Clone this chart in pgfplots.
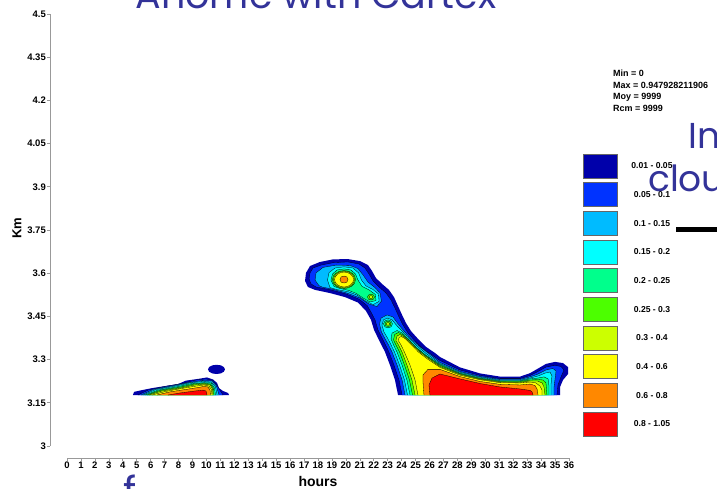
\documentclass[border=0pt]{standalone}
\usepackage{pgfplots}
\pgfplotsset{compat=1.18}
\usepackage{pgfplotstable}
\usepackage{fontspec}
\setmainfont{Liberation Sans}
\newfontfamily\slidefont{Poppins}

\definecolor{lv1}{RGB}{0,0,170}
\definecolor{lv2}{RGB}{0,51,255}
\definecolor{lv3}{RGB}{0,187,255}
\definecolor{lv4}{RGB}{0,255,255}
\definecolor{lv5}{RGB}{0,255,140}
\definecolor{lv6}{RGB}{76,255,0}
\definecolor{lv7}{RGB}{204,255,0}
\definecolor{lv8}{RGB}{255,255,0}
\definecolor{lv9}{RGB}{255,136,0}
\definecolor{lv10}{RGB}{255,0,0}
\definecolor{slideblue}{RGB}{51,51,153}

% ---------- main cloud: levels enclosing the whole structure ----------
\pgfplotstableread{
x y
23.74 3.177
23.52 3.229
23.16 3.281
22.81 3.326
22.55 3.351
22.30 3.375
22.02 3.403
21.80 3.438
21.44 3.469
20.87 3.498
19.94 3.517
18.86 3.531
17.79 3.542
17.28 3.552
17.07 3.573
17.14 3.601
17.43 3.625
18.14 3.639
19.08 3.648
20.15 3.649
21.01 3.642
21.59 3.628
21.87 3.608
22.16 3.583
22.59 3.563
23.09 3.542
23.45 3.517
23.74 3.486
24.03 3.455
24.31 3.427
24.67 3.399
25.17 3.372
25.75 3.344
26.39 3.323
26.75 3.309
28.18 3.273
29.62 3.252
31.05 3.241
32.49 3.241
33.21 3.253
33.71 3.267
34.35 3.285
35.00 3.292
35.57 3.288
35.93 3.274
35.93 3.250
35.57 3.229
35.36 3.205
35.36 3.177
}\mainA
\pgfplotstableread{
x y
24.03 3.177
23.81 3.229
23.45 3.281
23.09 3.326
22.84 3.351
22.59 3.375
22.30 3.403
22.09 3.438
21.80 3.465
21.52 3.488
20.94 3.510
20.01 3.528
18.93 3.542
17.86 3.552
17.50 3.563
17.36 3.580
17.43 3.601
17.64 3.618
18.22 3.628
19.15 3.637
20.15 3.639
20.94 3.632
21.37 3.618
21.66 3.597
21.95 3.573
22.38 3.552
22.88 3.531
23.24 3.507
23.52 3.479
23.81 3.448
24.10 3.420
24.46 3.392
24.96 3.365
25.53 3.337
26.18 3.316
26.75 3.297
28.18 3.264
29.62 3.245
31.05 3.234
32.49 3.234
33.21 3.245
33.71 3.257
34.35 3.274
35.00 3.280
35.43 3.276
35.64 3.264
35.43 3.240
35.21 3.212
35.14 3.177
}\mainB

% ---------- upper lobe (19-22 h) ----------
\pgfplotstableread{
x y
18.07 3.557
17.79 3.576
17.86 3.601
18.36 3.620
19.29 3.628
20.30 3.627
20.87 3.616
21.23 3.594
21.59 3.569
22.09 3.550
22.45 3.531
22.55 3.503
22.23 3.484
21.66 3.493
21.01 3.514
20.08 3.531
19.00 3.545
18.29 3.552
}\headC
\pgfplotstableread{
x y
18.68 3.576
18.79 3.602
19.22 3.618
19.87 3.622
20.51 3.618
20.91 3.601
21.12 3.576
21.44 3.556
21.95 3.543
22.34 3.528
22.38 3.502
21.95 3.491
21.37 3.505
20.80 3.524
20.15 3.536
19.36 3.543
18.86 3.550
}\headD
\pgfplotstableread{
x y
18.93 3.576
19.04 3.597
19.36 3.611
19.87 3.615
20.37 3.611
20.69 3.597
20.87 3.576
21.16 3.554
21.66 3.542
22.12 3.526
22.16 3.505
21.73 3.500
21.23 3.514
20.73 3.530
20.22 3.540
19.58 3.547
19.15 3.554
}\headE
\pgfplotstableread{
x y
20.69 3.578
20.63 3.590
20.45 3.600
20.18 3.607
19.87 3.609
19.55 3.607
19.28 3.600
19.10 3.590
19.04 3.578
19.10 3.566
19.28 3.556
19.55 3.549
19.87 3.547
20.18 3.549
20.45 3.556
20.63 3.566
}\headF
\pgfplotstableread{
x y
20.62 3.578
20.56 3.589
20.40 3.598
20.15 3.605
19.87 3.607
19.58 3.605
19.33 3.598
19.17 3.589
19.11 3.578
19.17 3.567
19.33 3.558
19.58 3.551
19.87 3.549
20.15 3.551
20.40 3.558
20.56 3.567
}\headG
\pgfplotstableread{
x y
20.55 3.578
20.50 3.588
20.35 3.596
20.13 3.602
19.87 3.604
19.61 3.602
19.39 3.596
19.24 3.588
19.19 3.578
19.24 3.568
19.39 3.560
19.61 3.554
19.87 3.552
20.13 3.554
20.35 3.560
20.50 3.568
}\headH
\pgfplotstableread{
x y
20.15 3.578
20.07 3.587
19.87 3.590
19.66 3.587
19.58 3.578
19.66 3.569
19.87 3.566
20.07 3.569
}\headI
\pgfplotstableread{
x y
22.05 3.517
21.98 3.524
21.80 3.527
21.62 3.524
21.55 3.517
21.62 3.510
21.80 3.507
21.98 3.510
}\secF
\pgfplotstableread{
x y
21.93 3.517
21.89 3.521
21.80 3.522
21.71 3.521
21.67 3.517
21.71 3.513
21.80 3.512
21.89 3.513
}\secG
\pgfplotstableread{
x y
23.34 3.424
23.25 3.434
23.02 3.438
22.79 3.434
22.70 3.424
22.79 3.414
23.02 3.410
23.25 3.414
}\thrE
\pgfplotstableread{
x y
23.24 3.424
23.17 3.431
23.02 3.433
22.87 3.431
22.81 3.424
22.87 3.417
23.02 3.415
23.17 3.417
}\thrF
\pgfplotstableread{
x y
23.14 3.424
23.10 3.427
23.02 3.429
22.94 3.427
22.91 3.424
22.94 3.421
23.02 3.419
23.10 3.421
}\thrG

% ---------- lower part of the main cloud (24-36 h) ----------
\pgfplotstableread{
x y
24.24 3.177
24.03 3.229
23.67 3.281
23.31 3.326
23.06 3.351
22.81 3.372
22.55 3.396
22.41 3.424
22.52 3.444
22.95 3.455
23.38 3.448
23.74 3.424
24.17 3.399
24.67 3.372
25.24 3.347
25.89 3.323
26.75 3.290
28.18 3.259
29.62 3.241
31.05 3.231
32.49 3.231
33.21 3.240
33.78 3.250
34.35 3.264
34.85 3.269
35.07 3.260
35.00 3.233
34.93 3.205
34.93 3.177
}\lowC
\pgfplotstableread{
x y
24.42 3.177
24.20 3.229
23.85 3.281
23.49 3.326
23.24 3.351
23.02 3.372
22.73 3.396
22.59 3.420
22.70 3.438
22.99 3.444
23.31 3.438
23.67 3.417
24.10 3.396
24.56 3.372
25.10 3.347
25.75 3.321
26.75 3.286
28.18 3.256
29.62 3.239
31.05 3.228
32.49 3.228
33.21 3.236
33.78 3.243
34.28 3.253
34.64 3.257
34.78 3.243
34.71 3.215
34.71 3.177
}\lowD
\pgfplotstableread{
x y
24.60 3.177
24.38 3.229
24.03 3.281
23.67 3.326
23.42 3.351
23.24 3.372
23.31 3.392
23.67 3.401
24.06 3.392
24.49 3.370
24.99 3.345
25.64 3.319
26.75 3.283
28.18 3.253
29.62 3.236
31.05 3.226
32.49 3.226
33.21 3.233
33.78 3.236
34.21 3.240
34.50 3.233
34.57 3.208
34.57 3.177
}\lowE
\pgfplotstableread{
x y
24.78 3.177
24.56 3.229
24.20 3.281
23.85 3.326
23.59 3.351
23.42 3.368
23.49 3.387
23.77 3.394
24.13 3.385
24.56 3.365
25.06 3.340
25.71 3.314
26.75 3.280
28.18 3.251
29.62 3.234
31.05 3.224
32.49 3.224
33.21 3.229
33.78 3.231
34.14 3.229
34.35 3.219
34.42 3.177
}\lowF
\pgfplotstableread{
x y
24.96 3.177
24.74 3.229
24.38 3.281
24.03 3.326
23.77 3.351
23.59 3.366
23.67 3.382
23.88 3.387
24.20 3.378
24.63 3.358
25.14 3.333
25.78 3.309
26.75 3.276
28.18 3.249
29.62 3.232
31.05 3.222
32.49 3.221
33.21 3.226
33.71 3.226
34.07 3.219
34.21 3.205
34.28 3.177
}\lowG
\pgfplotstableread{
x y
25.17 3.177
24.96 3.229
24.60 3.281
24.20 3.326
23.95 3.351
23.77 3.365
23.81 3.377
23.99 3.380
24.28 3.372
24.71 3.351
25.21 3.326
25.85 3.302
26.75 3.273
28.18 3.246
29.62 3.230
31.05 3.220
32.49 3.219
33.21 3.222
33.63 3.219
33.92 3.208
34.07 3.194
34.07 3.177
}\lowH
\pgfplotstableread{
x y
25.60 3.177
25.53 3.222
25.53 3.247
25.89 3.266
26.75 3.266
28.18 3.241
29.62 3.224
31.05 3.214
32.49 3.212
33.21 3.215
33.56 3.210
33.71 3.198
33.78 3.177
}\lowI
\pgfplotstableread{
x y
26.03 3.177
25.96 3.212
26.18 3.236
26.75 3.250
28.18 3.233
29.62 3.217
31.05 3.205
32.49 3.198
33.21 3.193
33.35 3.188
33.42 3.177
}\lowJ

% ---------- early cloud (5-12 h) ----------
\pgfplotstableread{
x y
4.73 3.177
4.81 3.188
5.38 3.194
6.10 3.201
7.03 3.208
7.96 3.215
8.53 3.227
9.54 3.234
10.04 3.238
10.47 3.231
10.76 3.219
10.90 3.201
11.19 3.191
11.55 3.184
11.62 3.177
}\earlyA
\pgfplotstableread{
x y
5.09 3.177
5.81 3.194
7.03 3.207
8.25 3.217
9.25 3.229
9.97 3.233
10.47 3.227
10.79 3.208
11.04 3.188
11.19 3.177
}\earlyB
\pgfplotstableread{
x y
5.31 3.177
6.17 3.196
7.46 3.208
8.68 3.220
9.68 3.227
10.40 3.226
10.72 3.208
10.90 3.177
}\earlyC
\pgfplotstableread{
x y
5.45 3.177
6.38 3.196
7.67 3.207
8.82 3.219
9.75 3.224
10.36 3.222
10.65 3.205
10.76 3.177
}\earlyD
\pgfplotstableread{
x y
5.59 3.177
6.53 3.194
7.82 3.205
8.96 3.217
9.83 3.220
10.33 3.219
10.58 3.201
10.65 3.177
}\earlyE
\pgfplotstableread{
x y
5.74 3.177
6.67 3.193
7.96 3.203
9.11 3.215
9.83 3.218
10.29 3.215
10.51 3.200
10.54 3.177
}\earlyF
\pgfplotstableread{
x y
5.88 3.177
6.81 3.191
8.10 3.201
9.18 3.212
9.83 3.215
10.26 3.212
10.44 3.198
10.47 3.177
}\earlyG
\pgfplotstableread{
x y
6.10 3.177
7.03 3.189
8.25 3.200
9.25 3.208
9.83 3.212
10.18 3.208
10.36 3.196
10.40 3.177
}\earlyH
\pgfplotstableread{
x y
6.45 3.177
7.39 3.188
8.46 3.196
9.40 3.203
9.83 3.207
10.11 3.205
10.26 3.194
10.29 3.177
}\earlyI
\pgfplotstableread{
x y
7.24 3.177
8.10 3.184
9.18 3.191
9.75 3.194
9.97 3.191
10.04 3.177
}\earlyJ
\pgfplotstableread{
x y
11.33 3.266
11.25 3.274
11.03 3.280
10.72 3.282
10.42 3.280
10.19 3.274
10.11 3.266
10.19 3.258
10.42 3.252
10.72 3.250
11.03 3.252
11.25 3.258
}\puff

% a filled band resting on the lowest level, outlined everywhere but along its base
\newcommand{\band}[2]{%
  \addplot[fill=#2, draw=none] table {#1} -- cycle;
  \addplot[black, line width=0.3pt] table {#1};
}
% a closed contour
\newcommand{\ring}[2]{%
  \addplot[fill=#2, draw=black, line width=0.3pt] table {#1} -- cycle;
}
\newcommand{\tickfont}{\bfseries\fontsize{9.5}{11}\selectfont}

\begin{document}
\begin{tikzpicture}[x=1pt,y=1pt]
\path[use as bounding box] (0,0) rectangle (717,489);

% contour field with the height axis
\begin{axis}[
  at={(50pt,43pt)}, anchor=south west,
  x=13.944pt, y=288pt,
  xmin=-1.219, xmax=36, ymin=3, ymax=4.5,
  axis x line=none, axis y line*=left,
  axis line style={gray!80, line width=0.7pt},
  ytick={3,3.15,3.3,3.45,3.6,3.75,3.9,4.05,4.2,4.35,4.5},
  yticklabels={3,3.15,3.3,3.45,3.6,3.75,3.9,4.05,4.2,4.35,4.5},
  tick align=outside, major tick length=3pt,
  tick style={gray!80, line width=0.6pt},
  yticklabel style={font=\tickfont, inner sep=1pt},
  no markers,
]
  \addplot[fill=lv1, draw=none] table {\mainA} -- cycle;
  \addplot[fill=lv1, draw=none] table {\puff} -- cycle;
  \band{\mainB}{lv2}
  \ring{\headC}{lv3}
  \ring{\headD}{lv4}
  \ring{\headE}{lv5}
  \ring{\headF}{lv6}
  \ring{\headG}{lv7}
  \ring{\headH}{lv8}
  \ring{\headI}{lv9}
  \ring{\secF}{lv6}
  \ring{\secG}{lv7}
  \band{\lowC}{lv3}
  \band{\lowD}{lv4}
  \ring{\thrE}{lv5}
  \ring{\thrF}{lv6}
  \ring{\thrG}{lv7}
  \band{\lowE}{lv5}
  \band{\lowF}{lv6}
  \band{\lowG}{lv7}
  \band{\lowH}{lv8}
  \band{\lowI}{lv9}
  \band{\lowJ}{lv10}
  \addplot[fill=lv1, draw=none] table {\earlyA} -- cycle;
  \band{\earlyB}{lv2}
  \band{\earlyC}{lv3}
  \band{\earlyD}{lv4}
  \band{\earlyE}{lv5}
  \band{\earlyF}{lv6}
  \band{\earlyG}{lv7}
  \band{\earlyH}{lv8}
  \band{\earlyI}{lv9}
  \band{\earlyJ}{lv10}
\end{axis}

% time axis, drawn detached below the field
\begin{axis}[
  at={(67pt,31pt)}, anchor=south west,
  x=13.944pt, y=1pt,
  xmin=0, xmax=36, ymin=0, ymax=1,
  axis y line=none, axis x line*=bottom,
  axis line style={gray!80, line width=0.7pt},
  xtick={0,...,36},
  tick align=outside, major tick length=3pt,
  tick style={gray!80, line width=0.6pt},
  xticklabel style={font=\tickfont, inner sep=1pt},
  /pgf/number format/assume math mode=true,
]
  \addplot[draw=none] coordinates {(0,0)};
\end{axis}

\node[font=\bfseries\fontsize{14}{16}\selectfont, inner sep=0] at (318,8) {hours};
\node[font=\bfseries\fontsize{13}{15}\selectfont, rotate=90, inner sep=0] at (17,261) {Km};

% statistics block
\begin{scope}[every node/.style={anchor=base west, inner sep=0, font=\bfseries\fontsize{9}{10}\selectfont}]
  \node at (613,412.5) {Min = 0};
  \node at (613,400.5) {Max = 0.947928211906};
  \node at (613,389.5) {Moy = 9999};
  \node at (613,377.5) {Rcm = 9999};
\end{scope}

% colour key
\foreach \c/\t [count=\i from 0] in {lv1/{0.01 - 0.05}, lv2/{0.05 - 0.1}, lv3/{0.1 - 0.15},
    lv4/{0.15 - 0.2}, lv5/{0.2 - 0.25}, lv6/{0.25 - 0.3}, lv7/{0.3 - 0.4},
    lv8/{0.4 - 0.6}, lv9/{0.6 - 0.8}, lv10/{0.8 - 1.05}} {
  \pgfmathsetmacro{\yt}{335-28.65*\i}
  \filldraw[fill=\c, draw=gray!80!black, line width=0.6pt] (583,\yt) rectangle (617,\yt-24);
  \node[font=\bfseries\fontsize{8.6}{10}\selectfont, inner sep=0] at (652,\yt-12) {\t};
}

% slide text around the figure
\node[anchor=base, inner sep=0, font=\slidefont\fontsize{38}{40}\selectfont, text=slideblue] at (316,480) {Anome with Cartex};
\node[anchor=base west, inner sep=0, font=\slidefont\fontsize{36}{38}\selectfont, text=slideblue] at (688,340) {In};
\node[anchor=base west, inner sep=0, font=\slidefont\fontsize{36}{38}\selectfont, text=slideblue] at (648,297) {cloud};
\fill[black] (676,257) rectangle (717,262);
\node[anchor=north west, inner sep=0, font=\slidefont\fontsize{40}{42}\selectfont, text=slideblue] at (123,14) {f};
\end{tikzpicture}
\end{document}
